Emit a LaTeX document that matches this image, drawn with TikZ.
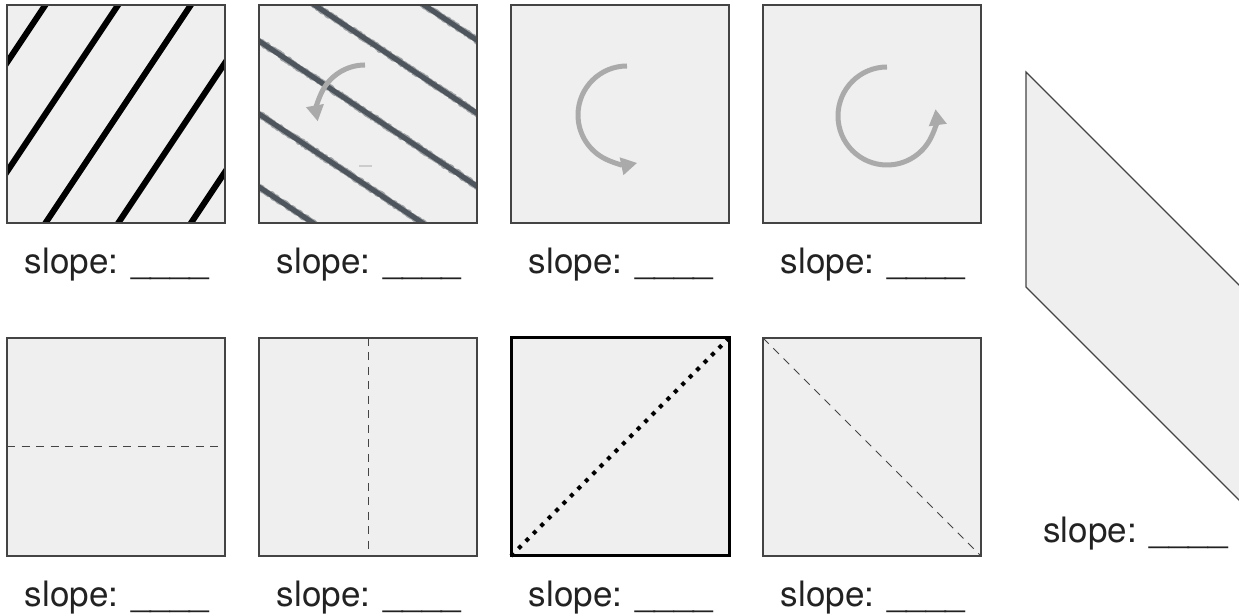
\documentclass[tikz,border=0pt]{standalone}
\usepackage{fontspec}
\setmainfont{TeX Gyre Heros}
\usetikzlibrary{arrows.meta,decorations.pathmorphing}
\definecolor{sqfill}{HTML}{EFEFEF}
\definecolor{sqline}{HTML}{444444}
\definecolor{arrgray}{HTML}{AAAAAA}
\definecolor{crayon}{HTML}{4E555C}
\definecolor{txt}{HTML}{222222}
\definecolor{faint}{HTML}{CCCCCC}
\begin{document}
\begin{tikzpicture}[x=1pt,y=1pt,
  sqbox/.style={draw=sqline, line width=1.2pt, fill=sqfill, minimum size=218pt, inner sep=0pt, outer sep=0pt},
  boldbox/.style={sqbox, draw=black, line width=3pt},
  lab/.style={anchor=base, text=txt, font=\fontsize{35}{40}\selectfont, inner sep=0pt},
  hatch/.style={line width=6pt, black},
  crayonline/.style={line width=5pt, crayon},
  crayonedge/.style={line width=6.5pt, crayon, opacity=0.5, line join=round, decorate, decoration={random steps, segment length=1.5pt, amplitude=1pt}},
  rotarrow/.style={line width=5pt, arrgray, -{Triangle[length=16pt,width=17pt]}},
  foldline/.style={sqline, line width=1pt, dash pattern=on 8pt off 6.5pt},
  dotline/.style={black, line width=4pt, dash pattern=on 4pt off 6.5pt},
]
\useasboundingbox (0,0) rectangle (1239,615);

% ---------- top row ----------
\node[sqbox] (s1) at (116,501) {};
\node[sqbox] (s2) at (368,501) {};
\node[sqbox] (s3) at (620,501) {};
\node[sqbox] (s4) at (872,501) {};

% square 1: steep black hatching
\begin{scope}
  \clip (s1.south west) rectangle (s1.north east);
  \foreach \b in {-107,-34.25,38.5,111.25,184} {
    \draw[hatch] ({7+\b-8},380) -- ({7+\b+153.33},622);
  }
\end{scope}
\draw[sqline, line width=1.2pt] (s1.south west) rectangle (s1.north east);

% square 2: crayon lines and arrow
\begin{scope}
  \clip (s2.south west) rectangle (s2.north east);
  \foreach \c in {36,109,182,255,328} {
    \draw[crayonline] (249,{398.67+\c}) -- (487,{240+\c});
    \draw[crayonedge] (249,{398.67+\c}) -- (487,{240+\c});
  }
\end{scope}
\draw[sqline, line width=1.2pt] (s2.south west) rectangle (s2.north east);
\draw[rotarrow] (365,550) arc[start angle=90, end angle=190, radius=48];
\draw[faint, line width=1.5pt] (359,449) -- (372,449);

% square 3 and 4: rotation arrows
\draw[rotarrow] (627,549) arc[start angle=90, end angle=282, radius=49];
\draw[rotarrow] (887,548) arc[start angle=90, end angle=368, radius=49];

% ---------- bottom row ----------
\node[sqbox] (s5) at (116,168) {};
\node[sqbox] (s6) at (368,168) {};
\node[boldbox] (s7) at (620,168) {};
\node[sqbox] (s8) at (872,168) {};

\draw[foldline] (s5.west) -- (s5.east);
\draw[foldline] (s6.north) -- (s6.south);
\draw[dotline] (s7.south west) -- (s7.north east);
\draw[foldline] (s8.north west) -- (s8.south east);

% ---------- parallelogram ----------
\begin{scope}
  \clip (0,0) rectangle (1239,615);
  \coordinate (p1) at (1026,543);
  \coordinate (p2) at (1026,328);
  \coordinate (p3) at (1336,18);
  \coordinate (p4) at (1336,233);
  \draw[sqline, line width=1.2pt, fill=sqfill] (p1) -- (p2) -- (p3) -- (p4) -- cycle;
\end{scope}

% ---------- labels ----------
\node[lab] (l1) at (117,341) {slope: \_\_\_\_};
\node[lab] (l2) at (369,341) {slope: \_\_\_\_};
\node[lab] (l3) at (621,341) {slope: \_\_\_\_};
\node[lab] (l4) at (873,341) {slope: \_\_\_\_};
\node[lab] (l5) at (117,8) {slope: \_\_\_\_};
\node[lab] (l6) at (369,8) {slope: \_\_\_\_};
\node[lab] (l7) at (621,8) {slope: \_\_\_\_};
\node[lab] (l8) at (873,8) {slope: \_\_\_\_};
\node[lab] (l9) at (1135.5,72) {slope: \_\_\_\_};
\end{tikzpicture}
\end{document}
